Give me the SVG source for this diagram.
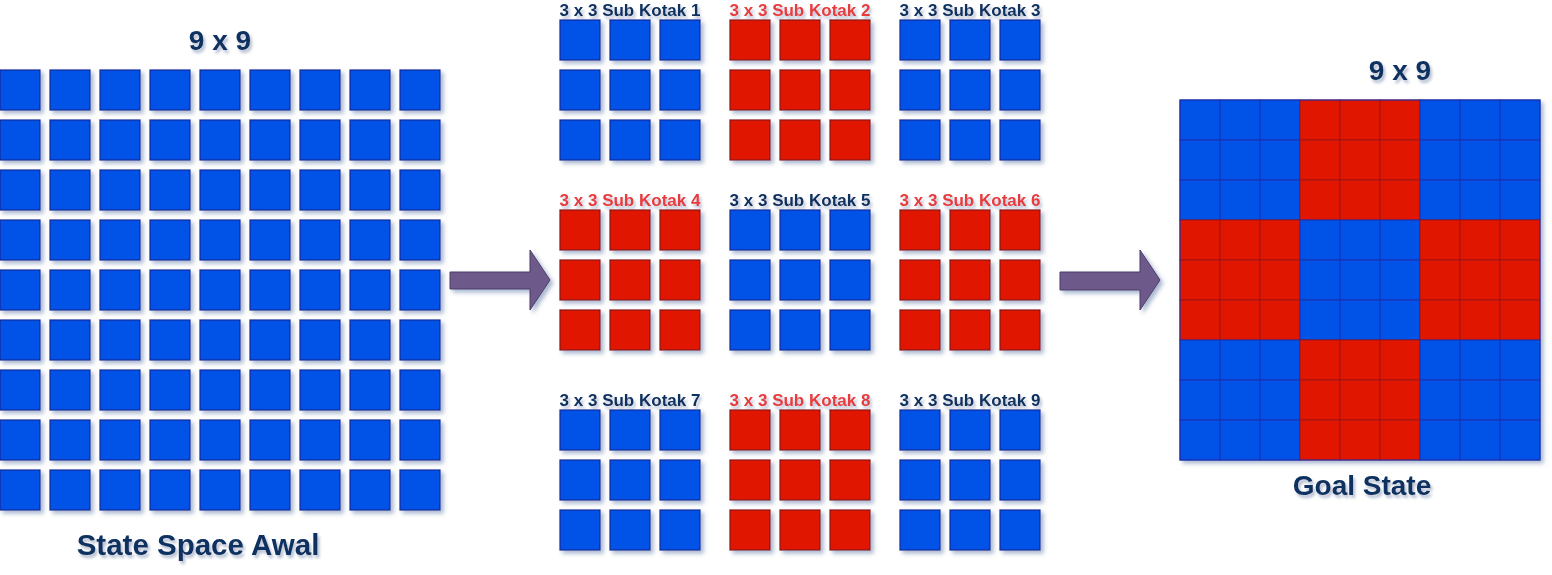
<svg xmlns="http://www.w3.org/2000/svg" xmlns:xlink="http://www.w3.org/1999/xlink" width="1552" height="575" viewBox="0 0 1552 575">
<style>
.t{font-family:"Liberation Sans",Arial,sans-serif;font-weight:bold;text-anchor:middle}
.nv{fill:#0c3060}
.rd{fill:#e83a3a}
.sub{font-size:17px}
.big{font-size:28px}
.b{fill:#0052e6;stroke:#10289a;stroke-width:1.2}
.r{fill:#e01800;stroke:#8a1010;stroke-width:1.2}
.gb{fill:#0052e6;stroke:#1a2fb0;stroke-width:1}
.gr{fill:#e01800;stroke:#a01010;stroke-width:1}
.arr{fill:#6d5a8a;stroke:#4a3a68;stroke-width:1}
</style>
<defs>
<filter id="sh" x="-20%" y="-20%" width="150%" height="150%">
<feDropShadow dx="3" dy="3" stdDeviation="2" flood-color="#7088b0" flood-opacity="0.6"/>
</filter>
<filter id="ts" x="-10%" y="-30%" width="130%" height="180%">
<feDropShadow dx="2" dy="3" stdDeviation="1.5" flood-color="#8090b0" flood-opacity="0.6"/>
</filter>
<rect id="sqb" class="b" width="40" height="40"/>
<rect id="sqr" class="r" width="40" height="40"/>
<g id="g3b"><use href="#sqb" x="0" y="0"/><use href="#sqb" x="50" y="0"/><use href="#sqb" x="100" y="0"/><use href="#sqb" x="0" y="50"/><use href="#sqb" x="50" y="50"/><use href="#sqb" x="100" y="50"/><use href="#sqb" x="0" y="100"/><use href="#sqb" x="50" y="100"/><use href="#sqb" x="100" y="100"/></g>
<g id="g3r"><use href="#sqr" x="0" y="0"/><use href="#sqr" x="50" y="0"/><use href="#sqr" x="100" y="0"/><use href="#sqr" x="0" y="50"/><use href="#sqr" x="50" y="50"/><use href="#sqr" x="100" y="50"/><use href="#sqr" x="0" y="100"/><use href="#sqr" x="50" y="100"/><use href="#sqr" x="100" y="100"/></g>
<g id="row9"><use href="#sqb" x="0"/><use href="#sqb" x="50"/><use href="#sqb" x="100"/><use href="#sqb" x="150"/><use href="#sqb" x="200"/><use href="#sqb" x="250"/><use href="#sqb" x="300"/><use href="#sqb" x="350"/><use href="#sqb" x="400"/></g>
<g id="grow"><rect class="gb" x="0" width="40" height="40"/><rect class="gb" x="40" width="40" height="40"/><rect class="gb" x="80" width="40" height="40"/><rect class="gr" x="120" width="40" height="40"/><rect class="gr" x="160" width="40" height="40"/><rect class="gr" x="200" width="40" height="40"/><rect class="gb" x="240" width="40" height="40"/><rect class="gb" x="280" width="40" height="40"/><rect class="gb" x="320" width="40" height="40"/></g>
<g id="growm"><rect class="gr" x="0" width="40" height="40"/><rect class="gr" x="40" width="40" height="40"/><rect class="gr" x="80" width="40" height="40"/><rect class="gb" x="120" width="40" height="40"/><rect class="gb" x="160" width="40" height="40"/><rect class="gb" x="200" width="40" height="40"/><rect class="gr" x="240" width="40" height="40"/><rect class="gr" x="280" width="40" height="40"/><rect class="gr" x="320" width="40" height="40"/></g>
</defs>
<rect width="1552" height="575" fill="#ffffff"/>

<g id="state-awal">
<text class="t nv big" x="220" y="50" filter="url(#ts)">9 x 9</text>
<g filter="url(#sh)">
<use href="#row9" x="0" y="70"/><use href="#row9" x="0" y="120"/><use href="#row9" x="0" y="170"/><use href="#row9" x="0" y="220"/><use href="#row9" x="0" y="270"/><use href="#row9" x="0" y="320"/><use href="#row9" x="0" y="370"/><use href="#row9" x="0" y="420"/><use href="#row9" x="0" y="470"/>
</g>
<text class="t nv" x="198" y="555" font-size="29.5" filter="url(#ts)">State Space Awal</text>
</g>

<g id="sub1"><text class="t nv sub" x="630" y="16" filter="url(#ts)">3 x 3 Sub Kotak 1</text><use href="#g3b" x="560" y="20" filter="url(#sh)"/></g>
<g id="sub2"><text class="t rd sub" x="800" y="16" filter="url(#ts)">3 x 3 Sub Kotak 2</text><use href="#g3r" x="730" y="20" filter="url(#sh)"/></g>
<g id="sub3"><text class="t nv sub" x="970" y="16" filter="url(#ts)">3 x 3 Sub Kotak 3</text><use href="#g3b" x="900" y="20" filter="url(#sh)"/></g>
<g id="sub4"><text class="t rd sub" x="630" y="206" filter="url(#ts)">3 x 3 Sub Kotak 4</text><use href="#g3r" x="560" y="210" filter="url(#sh)"/></g>
<g id="sub5"><text class="t nv sub" x="800" y="206" filter="url(#ts)">3 x 3 Sub Kotak 5</text><use href="#g3b" x="730" y="210" filter="url(#sh)"/></g>
<g id="sub6"><text class="t rd sub" x="970" y="206" filter="url(#ts)">3 x 3 Sub Kotak 6</text><use href="#g3r" x="900" y="210" filter="url(#sh)"/></g>
<g id="sub7"><text class="t nv sub" x="630" y="406" filter="url(#ts)">3 x 3 Sub Kotak 7</text><use href="#g3b" x="560" y="410" filter="url(#sh)"/></g>
<g id="sub8"><text class="t rd sub" x="800" y="406" filter="url(#ts)">3 x 3 Sub Kotak 8</text><use href="#g3r" x="730" y="410" filter="url(#sh)"/></g>
<g id="sub9"><text class="t nv sub" x="970" y="406" filter="url(#ts)">3 x 3 Sub Kotak 9</text><use href="#g3b" x="900" y="410" filter="url(#sh)"/></g>

<g id="goal-state">
<text class="t nv big" x="1400" y="80" filter="url(#ts)">9 x 9</text>
<g filter="url(#sh)">
<use href="#grow" x="1180" y="100"/><use href="#grow" x="1180" y="140"/><use href="#grow" x="1180" y="180"/>
<use href="#growm" x="1180" y="220"/><use href="#growm" x="1180" y="260"/><use href="#growm" x="1180" y="300"/>
<use href="#grow" x="1180" y="340"/><use href="#grow" x="1180" y="380"/><use href="#grow" x="1180" y="420"/>
</g>
<rect x="1180" y="100" width="360" height="360" fill="none" stroke="#1a2fb0" stroke-width="1"/>
<text class="t nv big" x="1362" y="495" filter="url(#ts)">Goal State</text>
</g>

<g id="connectors" filter="url(#sh)">
<path class="arr" d="M450,272 L530,272 L530,250 L550,280 L530,310 L530,289 L450,289 Z"/>
<path class="arr" d="M1060,272 L1140,272 L1140,250 L1160,280 L1140,310 L1140,290 L1060,290 Z"/>
</g>
</svg>
